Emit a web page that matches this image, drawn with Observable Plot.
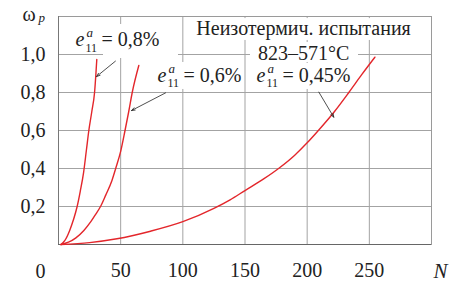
<!DOCTYPE html>
<html><head><meta charset="utf-8">
<script src="https://cdn.jsdelivr.net/npm/d3@7"></script>
<script src="https://cdn.jsdelivr.net/npm/@observablehq/plot@0.6"></script>
<style>
html,body{margin:0;padding:0;background:#fff}
</style>
</head><body><div id="chart"></div>
<script>
// axis ticks
const xTicks = [50, 100, 150, 200, 250];
const yTicks = [0.2, 0.4, 0.6, 0.8, 1.0];
// curves: N (cycles) and omega_p
const n08 = [2, 5, 9, 12, 15, 17.5, 20.2, 22.5, 24.4, 26.8, 29, 30.8];
const w08 = [0, 0.02, 0.074, 0.13, 0.2, 0.28, 0.38, 0.5, 0.6, 0.7, 0.8, 0.974];
const n06 = [2, 8, 14, 20.4, 26, 30, 33.8, 38, 43, 46, 50, 53.5, 56.5, 59.3, 64.6];
const w06 = [0, 0.012, 0.035, 0.074, 0.12, 0.16, 0.2, 0.26, 0.337, 0.4, 0.49, 0.6, 0.7, 0.8, 0.942];
const n045 = [2, 25, 47, 74, 100, 125, 138, 150, 165, 177, 190, 200, 209, 222, 233.5, 244, 254.5];
const w045 = [0, 0.01, 0.03, 0.07, 0.12, 0.19, 0.235, 0.284, 0.345, 0.4, 0.47, 0.535, 0.6, 0.7, 0.8, 0.895, 0.986];
const seriesPct = ["0,8%", "0,6%", "0,45%"];
// annotation anchors (data space)
const labelN = [13.7, 79.6, 159.3];
const labelW = [1.078, 0.89, 0.89];
const arrowFromN = [45.8, 86.1, 209.4], arrowFromW = [0.965, 0.798, 0.802];
const arrowToN = [30.6, 58.7, 221.4], arrowToW = [0.884, 0.705, 0.67];
const titleLines = ["Неизотермич. испытания", "823–571°C"];
const titleN = [197.1, 197.1], titleW = [1.134, 1.005];
// white label backgrounds (data space)
const boxN1 = [36.2, 77.2, 111.0, 154.4, 154.4], boxN2 = [96.5, 148.8, 283.1, 241.3, 238.1];
const boxW1 = [0.979, 0.816, 1.074, 0.958, 0.816], boxW2 = [1.158, 0.958, 1.189, 1.063, 0.953];

const curves = [
  ...n08.map((n, i) => ({s: 0, n, w: w08[i]})),
  ...n06.map((n, i) => ({s: 1, n, w: w06[i]})),
  ...n045.map((n, i) => ({s: 2, n, w: w045[i]}))
];
const labs = seriesPct.map((p, i) => ({x: labelN[i], y: labelW[i], p}));
const arrows = arrowFromN.map((v, i) => ({x1: v, y1: arrowFromW[i], x2: arrowToN[i], y2: arrowToW[i]}));
const titles = titleLines.map((t, i) => ({t, x: titleN[i], y: titleW[i]}));
const boxes = boxN1.map((v, i) => ({x1: v, x2: boxN2[i], y1: boxW1[i], y2: boxW2[i]}));
const fmt = d => d.toFixed(1).replace(".", ",");
const red = "#e3262b";
const grid = "#a3a3a3";
const ff = "Liberation Serif";
const ink = "#222";

const plot = Plot.plot({
  width: 452, height: 282,
  marginLeft: 58, marginRight: 21, marginTop: 16, marginBottom: 38,
  style: {fontFamily: ff, fontSize: "20px", background: "#fff", color: ink},
  x: {domain: [0, 300]},
  y: {domain: [0, 1.2]},
  marks: [
    Plot.gridX(xTicks, {stroke: grid, strokeOpacity: 1}),
    Plot.gridY(yTicks, {stroke: grid, strokeOpacity: 1}),
    Plot.rect(boxes, {x1: "x1", x2: "x2", y1: "y1", y2: "y2", fill: "white"}),
    Plot.frame({stroke: "#9a9a9a"}),
    Plot.ruleY([0], {stroke: "#666"}),
    Plot.ruleX([0], {stroke: "#777"}),
    Plot.line(curves, {x: "n", y: "w", z: "s", stroke: red, strokeWidth: 1.4, curve: "monotone-x"}),
    Plot.arrow(arrows, {x1: "x1", y1: "y1", x2: "x2", y2: "y2", stroke: ink, strokeWidth: 0.8, headLength: 7, headAngle: 40}),
    Plot.text(labs, {x: "x", y: "y", text: () => "e", fontStyle: "italic", textAnchor: "start", lineAnchor: "middle", fontSize: 20, fontFamily: ff, fill: ink}),
    Plot.text(labs, {x: "x", y: "y", text: () => "a", fontStyle: "italic", textAnchor: "start", lineAnchor: "middle", fontSize: 13, fontFamily: ff, dx: 11, dy: -7, fill: ink}),
    Plot.text(labs, {x: "x", y: "y", text: () => "11", textAnchor: "start", lineAnchor: "middle", fontSize: 12, fontFamily: ff, dx: 10, dy: 8, fill: ink}),
    Plot.text(labs, {x: "x", y: "y", text: d => "= " + d.p, textAnchor: "start", lineAnchor: "middle", fontSize: 20, fontFamily: ff, dx: 26, fill: ink}),
    Plot.text(titles, {x: "x", y: "y", text: "t", textAnchor: "middle", lineAnchor: "middle", fontSize: 20, fontFamily: ff, fill: ink}),
    Plot.axisX(xTicks, {tickSize: 0, tickPadding: 18, fontSize: 20, fontFamily: ff, fill: ink}),
    Plot.axisY(yTicks, {tickSize: 0, tickPadding: 13, fontSize: 20, fontFamily: ff, tickFormat: fmt, fill: ink}),
    Plot.text([0], {x: d => d, frameAnchor: "bottom", lineAnchor: "middle", text: d => String(d), dx: -18, dy: 26.6, fontSize: 20, fontFamily: ff, fill: ink}),
    Plot.text(["ω"], {frameAnchor: "top-left", lineAnchor: "middle", text: d => d, textAnchor: "start", dx: -36, dy: -2.4, fontSize: 20, fontFamily: ff, fill: ink}),
    Plot.text(["p"], {frameAnchor: "top-left", lineAnchor: "middle", text: d => d, textAnchor: "start", fontStyle: "italic", dx: -20, dy: 1.8, fontSize: 13, fontFamily: ff, fill: ink}),
    Plot.text(["N"], {frameAnchor: "bottom-right", lineAnchor: "middle", text: d => d, textAnchor: "middle", fontStyle: "italic", dx: 9, dy: 26.3, fontSize: 21, fontFamily: ff, fill: ink})
  ]
});
document.getElementById("chart").appendChild(plot);
</script>
</body></html>
